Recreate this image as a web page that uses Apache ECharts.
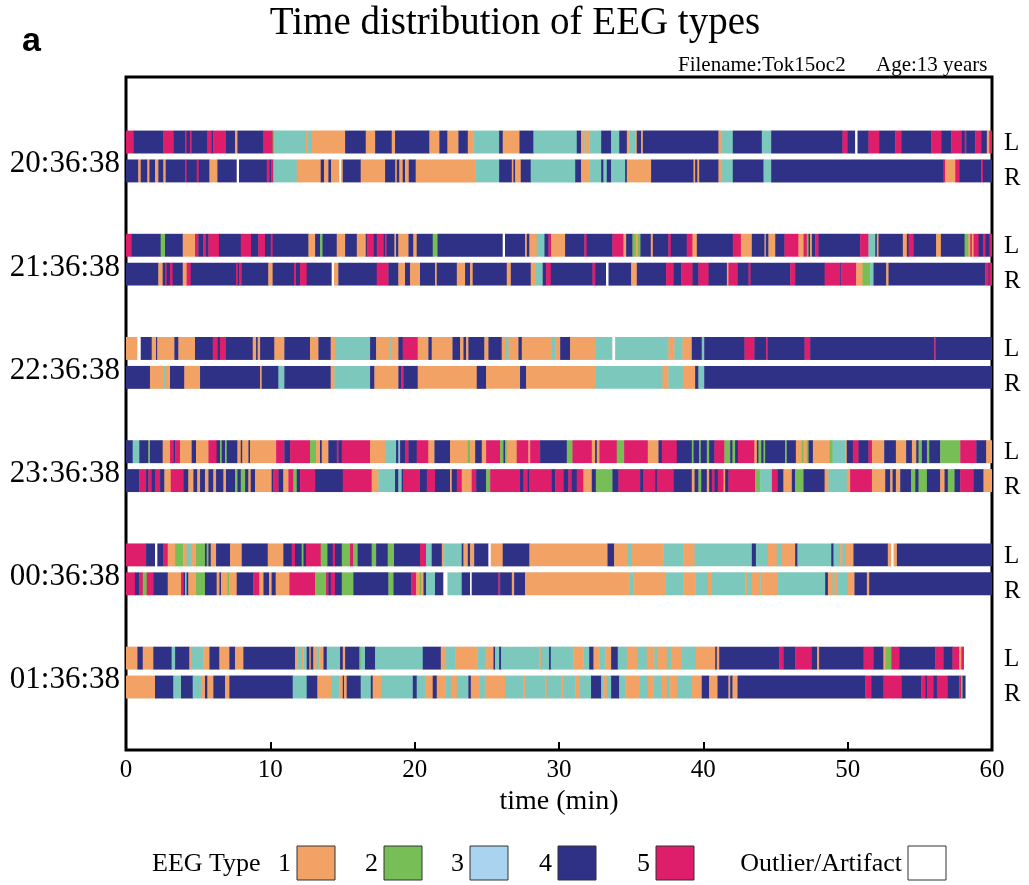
<!DOCTYPE html>
<html>
<head>
<meta charset="utf-8">
<script src="https://cdn.jsdelivr.net/npm/echarts@6/dist/echarts.min.js"></script>
<style>
  html, body { margin: 0; padding: 0; background: #fff; }
  #chart { width: 1029px; height: 885px; }
</style>
</head>
<body>
<div id="chart"></div>
<script>
// EEG type per segment: 0 = outlier/artifact, 1..5 = EEG type.
// Each strip is a list of [type, endMinute]; a segment starts where the previous one ends (first at 0).
const hourLabels = ['20:36:38', '21:36:38', '22:36:38', '23:36:38', '00:36:38', '01:36:38'];
const xTicks = [0, 10, 20, 30, 40, 50, 60];

const s2036L = [[5,0.51],[4,2.59],[5,3.28],[4,4.09],[5,4.20],[4,4.44],[5,4.55],[4,5.64],[5,5.94],[4,6.05],[5,6.93],[4,7.55],[1,7.72],[4,9.52],[5,10.16],[2,10.28],[3,12.45],[1,12.57],[3,12.87],[1,15.18],[4,16.61],[1,17.26],[4,18.41],[1,18.64],[4,21.02],[1,21.71],[4,22.27],[1,23.03],[4,23.68],[1,24.07],[3,25.85],[4,26.10],[1,27.26],[4,28.23],[3,31.23],[4,31.53],[1,31.76],[3,31.88],[1,32.11],[3,32.92],[4,33.61],[3,34.17],[4,34.70],[1,34.86],[3,35.27],[1,35.39],[4,35.69],[1,35.81],[4,41.05],[1,41.23],[3,42.04],[4,44.05],[3,44.70],[4,49.64],[5,49.99],[4,50.52],[0,50.68],[4,51.44],[5,52.18],[4,53.29],[5,53.71],[4,55.79],[5,56.48],[4,57.17],[5,57.91],[4,58.10],[5,58.21],[4,58.84],[5,59.25],[4,59.64],[1,59.81],[5,60]];
const s2036R = [[4,0.85],[1,1.02],[4,1.48],[1,1.62],[4,2.01],[1,2.24],[4,2.59],[1,2.75],[4,4.09],[5,4.20],[4,4.90],[5,5.04],[4,5.78],[1,6.33],[4,7.67],[0,7.83],[4,9.75],[5,9.93],[4,10.05],[5,10.21],[3,11.83],[1,13.49],[4,13.72],[1,14.02],[4,14.21],[1,14.78],[0,14.90],[1,15.02],[4,16.26],[1,17.95],[4,18.66],[1,18.76],[4,18.94],[1,19.17],[4,19.33],[1,19.59],[4,20.07],[1,24.19],[3,25.85],[4,26.73],[1,26.84],[4,26.96],[1,27.35],[4,28.04],[3,31.12],[4,31.53],[1,32.11],[3,32.92],[4,33.08],[3,33.31],[4,33.61],[3,34.58],[4,34.70],[1,36.38],[4,39.32],[1,39.43],[4,39.59],[1,39.71],[4,41.05],[1,41.23],[3,42.04],[4,44.17],[3,44.70],[4,56.64],[5,56.76],[1,57.45],[5,57.73],[4,59.25],[5,59.37],[4,60]];

const s2136L = [[5,0.39],[4,2.40],[2,2.70],[4,3.93],[1,4.78],[5,5.01],[4,5.36],[5,5.54],[4,5.71],[5,6.44],[4,7.95],[5,8.66],[4,9.17],[5,9.63],[4,10.03],[5,10.16],[4,12.64],[1,13.10],[4,13.44],[2,13.61],[4,14.60],[1,15.18],[4,15.99],[1,16.61],[4,16.68],[5,17.14],[4,17.37],[5,17.83],[4,17.95],[5,18.06],[4,18.60],[1,18.71],[4,18.87],[1,19.57],[4,19.91],[1,20.14],[4,21.25],[2,21.58],[4,26.10],[0,26.26],[4,27.65],[1,27.77],[4,27.95],[1,28.46],[3,28.99],[4,29.27],[5,29.45],[1,30.42],[4,31.76],[5,31.92],[4,33.70],[5,34.47],[1,34.65],[4,35.09],[2,35.32],[1,35.46],[2,35.64],[4,36.36],[1,36.50],[4,37.58],[5,37.75],[4,38.85],[5,39.25],[1,39.55],[4,42.04],[5,42.60],[1,43.36],[4,44.24],[1,44.33],[4,44.51],[1,44.98],[4,45.62],[5,46.59],[1,46.94],[5,47.17],[2,47.29],[4,47.40],[1,47.52],[4,47.75],[5,47.98],[4,50.87],[5,51.44],[3,51.91],[4,52.02],[1,52.14],[4,53.82],[1,54.10],[4,54.22],[5,54.56],[4,56.13],[1,56.46],[4,58.10],[2,58.37],[1,58.49],[5,58.60],[1,58.72],[5,59.07],[4,59.37],[5,59.53],[4,59.83],[5,60]];
const s2136R = [[4,2.24],[1,2.54],[4,2.70],[5,2.82],[4,3.05],[5,3.23],[4,3.93],[1,4.20],[5,4.48],[4,7.62],[5,7.72],[4,7.83],[5,8.02],[4,9.86],[1,10.16],[4,11.64],[5,11.78],[4,12.06],[5,12.52],[4,14.25],[0,14.41],[1,14.71],[4,17.37],[5,18.18],[4,18.87],[1,19.33],[4,19.68],[1,20.37],[4,21.41],[1,21.53],[4,22.92],[1,23.49],[4,23.84],[1,24.02],[4,26.38],[1,26.66],[4,28.04],[1,28.34],[3,28.87],[4,29.11],[5,29.43],[4,32.32],[5,32.50],[4,33.26],[0,33.43],[4,35.00],[1,35.39],[4,37.42],[5,37.93],[4,38.46],[5,39.25],[4,39.66],[5,40.36],[4,41.63],[1,41.74],[5,42.39],[4,43.13],[5,43.27],[4,46.02],[5,46.36],[4,48.40],[5,49.48],[4,49.55],[5,50.59],[1,51.03],[2,51.56],[3,51.79],[4,52.67],[1,52.83],[4,59.53],[5,59.76],[4,59.83],[5,60]];

const s2236L = [[1,0.79],[0,1.02],[4,1.78],[1,2.08],[4,2.17],[1,3.35],[4,3.63],[1,4.78],[4,6.01],[5,6.33],[4,6.51],[5,6.93],[4,8.78],[1,9.01],[4,9.12],[1,9.29],[4,10.28],[1,10.97],[4,12.75],[1,13.33],[4,14.18],[1,14.48],[3,16.91],[4,17.33],[1,18.30],[3,18.41],[1,18.87],[4,19.17],[5,20.21],[1,20.95],[4,21.18],[1,22.62],[4,23.15],[1,23.38],[4,23.56],[1,23.72],[4,24.83],[1,25.11],[4,26.03],[1,26.26],[3,26.50],[1,27.19],[4,27.42],[1,29.50],[3,29.73],[1,30.08],[4,30.77],[1,32.50],[3,33.70],[0,33.89],[3,37.58],[1,38.00],[3,38.55],[1,39.20],[4,39.89],[3,40.06],[4,42.85],[5,43.54],[4,44.35],[5,44.47],[4,47.01],[5,47.40],[4,56.00],[5,56.11],[4,60]];
const s2236R = [[4,1.66],[1,2.59],[3,2.75],[1,3.05],[4,4.04],[1,5.13],[4,9.29],[1,9.40],[4,10.56],[3,10.97],[4,14.18],[1,14.44],[3,16.91],[4,17.21],[1,18.87],[4,19.06],[5,19.22],[4,20.21],[1,24.30],[4,24.95],[1,27.30],[4,27.72],[1,32.50],[3,37.17],[1,37.58],[3,38.58],[1,39.43],[4,39.66],[3,40.06],[4,60]];

const s2336L = [[4,0.46],[3,0.92],[4,1.55],[2,1.66],[4,2.54],[1,3.05],[5,3.28],[4,3.40],[5,3.74],[1,4.55],[4,4.85],[1,5.71],[5,6.28],[4,6.51],[2,6.63],[4,6.86],[2,6.98],[4,7.72],[1,7.95],[4,8.06],[1,8.48],[4,8.59],[1,10.40],[5,10.97],[4,11.37],[5,12.75],[2,13.17],[1,13.44],[4,13.56],[1,14.02],[4,14.60],[5,14.71],[4,14.95],[5,16.91],[1,17.95],[3,18.71],[4,18.87],[3,18.99],[4,19.33],[5,19.57],[4,20.14],[5,20.95],[1,21.37],[4,22.45],[1,23.68],[2,23.84],[1,24.19],[4,24.65],[1,24.95],[5,25.92],[2,26.15],[4,26.26],[2,26.38],[1,27.07],[5,27.88],[1,28.00],[5,28.69],[4,30.54],[2,30.93],[5,32.27],[1,32.50],[4,32.62],[1,32.80],[5,34.00],[2,34.51],[5,36.15],[1,36.89],[4,37.12],[5,38.16],[4,39.20],[2,39.32],[4,39.71],[2,39.82],[4,40.24],[2,40.40],[4,40.77],[5,41.46],[2,41.86],[4,42.02],[2,42.20],[4,42.39],[5,43.54],[1,43.71],[4,43.82],[2,44.01],[4,44.17],[2,44.28],[4,45.67],[2,45.78],[4,46.41],[1,46.82],[2,46.94],[1,47.17],[2,47.29],[4,47.59],[1,48.74],[2,48.95],[3,49.83],[1,49.94],[4,50.36],[5,50.75],[4,51.44],[5,51.68],[1,52.53],[4,53.34],[1,54.05],[4,54.45],[1,54.75],[4,54.91],[2,55.14],[4,55.49],[2,55.65],[4,56.41],[2,57.80],[5,58.91],[4,59.60],[1,60]];
const s2336R = [[4,0.92],[5,1.39],[4,1.55],[5,1.78],[4,2.01],[5,2.36],[4,2.66],[1,3.10],[5,3.97],[4,4.32],[1,4.67],[4,4.94],[1,5.13],[4,5.47],[1,5.71],[4,6.05],[1,6.24],[4,6.75],[1,6.93],[4,7.55],[2,7.72],[4,7.95],[2,8.25],[4,8.48],[1,8.64],[4,8.94],[1,10.09],[4,10.21],[5,10.56],[4,10.90],[1,11.25],[5,11.60],[2,11.83],[4,12.06],[5,13.10],[4,15.02],[5,17.02],[1,17.49],[3,18.64],[4,18.87],[3,19.10],[4,19.22],[5,20.37],[4,20.84],[5,21.41],[4,22.45],[1,22.57],[4,22.92],[5,23.26],[1,23.95],[5,24.26],[4,24.95],[2,25.23],[5,27.30],[4,27.54],[5,27.81],[4,27.95],[5,29.50],[4,29.73],[5,30.31],[4,30.65],[5,30.89],[4,31.23],[5,31.69],[1,32.27],[4,32.55],[2,33.70],[4,34.12],[5,35.62],[4,35.85],[5,36.66],[4,36.78],[5,37.93],[4,39.20],[1,39.39],[4,39.66],[2,39.85],[4,40.24],[1,40.40],[4,40.59],[5,40.77],[4,41.00],[5,41.40],[1,41.51],[4,41.74],[5,43.59],[2,43.94],[3,44.75],[5,45.16],[4,45.55],[1,46.13],[4,46.36],[2,46.94],[4,48.40],[1,48.67],[3,49.94],[1,50.17],[5,51.68],[1,52.60],[4,52.95],[1,53.11],[4,53.34],[1,53.64],[4,54.40],[2,54.68],[4,54.91],[2,55.49],[4,56.41],[1,56.71],[4,56.94],[2,57.40],[4,57.80],[5,58.72],[4,59.41],[1,60]];

const s0036L = [[5,1.39],[4,2.01],[0,2.17],[4,2.59],[5,2.89],[1,3.40],[2,3.97],[1,4.20],[3,4.50],[1,4.85],[2,5.47],[4,5.59],[2,5.71],[4,5.87],[1,6.24],[4,7.21],[1,8.02],[4,9.82],[1,10.90],[4,11.48],[5,11.71],[4,12.17],[2,12.29],[4,12.47],[5,13.49],[2,13.95],[4,14.32],[5,14.48],[4,14.95],[2,15.52],[5,15.75],[2,16.05],[4,17.02],[2,17.33],[4,18.13],[2,18.57],[4,20.37],[5,20.79],[3,21.18],[4,21.88],[1,22.04],[3,23.26],[4,23.38],[1,23.68],[4,23.84],[1,24.12],[4,25.11],[0,25.27],[1,26.10],[4,27.95],[1,33.36],[4,33.82],[1,34.77],[3,35.04],[1,37.24],[3,38.62],[1,39.39],[3,43.36],[4,43.64],[3,44.47],[1,45.09],[3,45.44],[1,46.36],[4,46.52],[3,48.86],[4,49.02],[3,49.48],[1,49.64],[3,49.87],[1,50.40],[4,52.78],[1,53.02],[0,53.18],[1,53.41],[4,60]];
const s0036R = [[5,0.62],[4,0.92],[5,1.16],[2,1.43],[5,1.89],[4,2.89],[1,3.81],[5,3.97],[4,4.09],[3,4.20],[4,4.32],[1,4.85],[2,5.47],[4,6.28],[1,6.47],[4,6.58],[1,7.02],[2,7.16],[1,7.67],[4,8.82],[5,9.24],[1,9.52],[4,9.91],[1,10.09],[4,10.37],[1,11.32],[5,13.10],[2,13.86],[5,14.02],[4,14.18],[5,14.48],[4,14.95],[2,15.75],[4,18.18],[2,18.53],[4,19.75],[5,20.10],[1,20.33],[2,20.44],[1,20.61],[4,20.79],[3,21.41],[4,21.99],[0,22.27],[3,23.26],[4,23.84],[0,23.95],[4,25.80],[5,25.92],[4,26.73],[1,26.89],[4,27.65],[1,34.86],[3,35.16],[1,37.35],[3,38.62],[1,39.43],[3,40.31],[1,40.59],[3,42.90],[1,43.08],[3,43.36],[1,43.94],[3,44.05],[1,45.16],[3,48.44],[4,48.63],[1,48.95],[3,49.09],[1,49.32],[3,50.01],[1,50.47],[4,51.33],[1,51.49],[4,60]];

const s0136L = [[1,0.79],[4,1.16],[1,1.89],[4,3.16],[3,3.40],[4,4.39],[1,4.55],[3,5.36],[1,5.78],[4,6.47],[1,7.16],[4,7.55],[1,8.13],[4,11.71],[1,11.87],[3,12.17],[1,12.29],[3,12.52],[4,12.71],[1,12.80],[4,12.98],[1,13.21],[3,13.40],[1,13.68],[4,13.91],[3,14.83],[4,15.02],[1,15.18],[4,16.17],[2,16.26],[3,16.56],[4,17.26],[3,20.56],[4,21.81],[1,22.11],[3,22.80],[1,24.35],[3,24.95],[1,25.46],[4,25.57],[3,25.85],[4,25.99],[3,28.64],[1,28.74],[3,29.31],[4,29.43],[3,31.00],[1,31.69],[3,32.09],[4,32.39],[1,32.80],[3,33.20],[1,33.61],[4,34.07],[3,34.70],[1,35.46],[3,36.08],[1,36.61],[3,36.78],[1,37.47],[3,37.75],[1,38.51],[3,39.48],[1,40.82],[4,40.93],[1,41.10],[4,45.25],[5,45.55],[4,46.36],[5,47.52],[4,47.89],[1,48.02],[4,51.10],[5,51.79],[4,52.48],[1,52.60],[2,53.02],[5,53.57],[4,56.06],[5,56.64],[4,57.26],[5,57.73],[1,57.87],[5,58.03]];
const s0136R = [[1,2.01],[4,3.28],[3,3.81],[4,4.62],[3,5.24],[1,5.47],[4,5.64],[1,6.05],[4,6.86],[1,7.16],[4,11.55],[3,12.52],[4,13.26],[1,14.25],[3,14.78],[1,15.02],[4,15.11],[1,15.29],[4,16.26],[3,16.96],[4,17.09],[1,17.72],[3,19.87],[4,20.14],[3,20.72],[1,21.25],[4,21.53],[1,22.11],[3,22.50],[1,22.92],[3,23.72],[4,23.89],[1,24.53],[3,24.88],[1,26.26],[3,27.54],[1,27.65],[3,29.04],[1,29.15],[3,30.15],[1,30.31],[3,31.12],[1,31.39],[3,32.22],[4,32.92],[3,33.08],[1,33.31],[3,33.61],[4,34.17],[3,34.58],[1,35.55],[3,36.15],[1,36.54],[3,37.12],[1,37.47],[3,37.70],[1,38.23],[3,39.20],[1,39.89],[4,40.40],[1,40.98],[4,41.74],[1,41.86],[4,42.02],[1,42.37],[4,51.21],[5,51.63],[4,52.48],[5,53.75],[4,55.09],[5,55.37],[4,55.49],[5,55.95],[4,56.18],[5,56.94],[4,57.73],[5,57.87],[2,57.96],[4,58.14]];

// Strips grouped by hour, left hemisphere first
const strips = [
  [s2036L, s2036R], [s2136L, s2136R], [s2236L, s2236R],
  [s2336L, s2336R], [s0036L, s0036R], [s0136L, s0136R]
];

const typeNames = ['Outlier/Artifact', '1', '2', '3', '4', '5'];
const typeColors = ['#ffffff', '#F2A264', '#78BE57', '#7CC8BD', '#2F3186', '#DE1D6B'];
const legendColors = ['#ffffff', '#F2A264', '#78BE57', '#A9D3EE', '#2F3186', '#DE1D6B'];

// Layout on the hour axis (one unit = one hour row)
const ROW_OFFSET = 0.14;   // L above / R below the hour centre
const STRIP_H = 0.222;
const SERIF = '"Liberation Serif", "DejaVu Serif", serif';

const segments = [];
strips.forEach(function (pair, h) {
  pair.forEach(function (strip, side) {
    const y = h + (side === 0 ? -ROW_OFFSET : ROW_OFFSET);
    let start = 0;
    strip.forEach(function (p) {
      segments.push([start, p[1], y, p[0]]);
      start = p[1];
    });
  });
});

const hourLabelValues = hourLabels.map(function (_, i) { return i + 0.075; });
const sideLabelValues = [];
hourLabels.forEach(function (_, i) { sideLabelValues.push(i - 0.13, i + 0.21); });

const chart = echarts.init(document.getElementById('chart'), null, { renderer: 'canvas' });

// Legend: "EEG Type" followed by labelled colour boxes
const legendOrder = [1, 2, 3, 4, 5, 0];
const legendBoxX = [297, 384, 470, 558, 656, 908];
const legendGraphics = [{
  type: 'text', x: 152, y: 864,
  style: { text: 'EEG Type', fontFamily: SERIF, fontSize: 26, fill: '#000', align: 'left', verticalAlign: 'middle' }
}];
legendOrder.forEach(function (t, i) {
  legendGraphics.push({
    type: 'text', x: legendBoxX[i] - 6, y: 864,
    style: { text: typeNames[t], fontFamily: SERIF, fontSize: 26, fill: '#000', align: 'right', verticalAlign: 'middle' }
  });
  legendGraphics.push({
    type: 'rect', shape: { x: legendBoxX[i], y: 846, width: 38, height: 34 },
    style: { fill: legendColors[t], stroke: '#333', lineWidth: 1 }
  });
});

const option = {
  backgroundColor: '#ffffff',
  animation: false,
  grid: { left: 126, right: 37, top: 77, bottom: 135, show: true, borderColor: '#000', borderWidth: 3, backgroundColor: 'transparent' },
  xAxis: {
    type: 'value', min: xTicks[0], max: xTicks[xTicks.length - 1], interval: 10,
    axisLine: { show: false, onZero: false },
    axisTick: { show: true, inside: true, length: 8, lineStyle: { color: '#000', width: 2 } },
    splitLine: { show: false },
    axisLabel: { fontFamily: SERIF, fontSize: 25, color: '#000', margin: 8 },
    name: 'time (min)', nameLocation: 'middle', nameGap: 38,
    nameTextStyle: { fontFamily: SERIF, fontSize: 28, color: '#000' }
  },
  yAxis: [{
    type: 'value', min: -0.77, max: 5.75, inverse: true, position: 'left',
    axisLine: { show: false }, axisTick: { show: false }, splitLine: { show: false },
    axisLabel: {
      customValues: hourLabelValues,
      formatter: function (v) { return hourLabels[Math.round(v)]; },
      fontFamily: SERIF, fontSize: 31, color: '#000', margin: 6
    }
  }, {
    type: 'value', min: -0.77, max: 5.75, inverse: true, position: 'right',
    axisLine: { show: false }, axisTick: { show: false }, splitLine: { show: false },
    axisLabel: {
      customValues: sideLabelValues,
      formatter: function (v) { return v - Math.round(v) < 0 ? 'L' : 'R'; },
      fontFamily: SERIF, fontSize: 25, color: '#000', margin: 12
    }
  }],
  series: [{
    type: 'custom',
    clip: true,
    encode: { x: [0, 1], y: 2 },
    data: segments,
    renderItem: function (params, api) {
      const a = api.coord([api.value(0), api.value(2)]);
      const b = api.coord([api.value(1), api.value(2)]);
      const h = api.size([0, STRIP_H])[1];
      return {
        type: 'rect',
        shape: { x: a[0], y: a[1] - h / 2, width: Math.max(b[0] - a[0], 0.8) + 0.4, height: h },
        style: { fill: typeColors[api.value(3)] }
      };
    }
  }],
  graphic: [
    { type: 'text', x: 515, y: 24,
      style: { text: 'Time distribution of EEG types', fontFamily: SERIF, fontSize: 39, fill: '#000', align: 'center', verticalAlign: 'middle' } },
    { type: 'text', x: 22, y: 42,
      style: { text: 'a', fontFamily: '"Liberation Sans", Arial, sans-serif', fontWeight: 'bold', fontSize: 34, fill: '#000', align: 'left', verticalAlign: 'middle' } },
    { type: 'text', x: 678, y: 65,
      style: { text: 'Filename:Tok15oc2', fontFamily: SERIF, fontSize: 21, fill: '#000', align: 'left', verticalAlign: 'middle' } },
    { type: 'text', x: 876, y: 65,
      style: { text: 'Age:13 years', fontFamily: SERIF, fontSize: 21, fill: '#000', align: 'left', verticalAlign: 'middle' } }
  ].concat(legendGraphics)
};

chart.setOption(option);
</script>
</body>
</html>
